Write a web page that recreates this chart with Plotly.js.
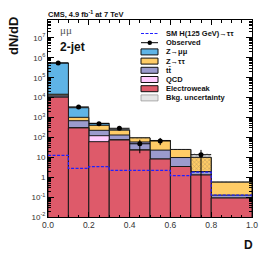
<!DOCTYPE html>
<html><head><meta charset="utf-8">
<script src="https://cdn.plot.ly/plotly-3.0.1.min.js"></script>
<style>html,body{margin:0;padding:0;background:#fff}</style>
</head><body><div id="chart" style="width:266px;height:255px"></div>
<script>
// ---- data ----
const binEdges    = [0.0, 0.1, 0.2, 0.3, 0.4, 0.5, 0.6, 0.7, 0.8, 1.0];
const electroweak = [10500, 300, 61, 74, 23, 8.2, 3.45, 1.29, 0.09];
const qcd         = [300, 10, 61, 3, 1, 0, 0, 0, 0];
const ttbar       = [2500, 380, 105, 55, 35, 14.8, 6.3, 0.64, 0.035];
const ztautau     = [1500, 330, 178, 100, 36, 47, 15, 8.0, 0.44];
const zmumu       = [535000, 2080, 107, 8, 0, 0, 0, 0, 0];
const bkgUnc      = [30000, 200, 30, 18, 8, 6, 2.5, 7.5, 0.06];
const signalSM    = [12.5, 2.8, 3.4, 2.2, 2.2, 2.2, 1.19, 1.8, 0.125];
const observed    = [550000, 3400, 490, 287, 48, 66, null, 13.5, null];
const obsErrUp    = [800, 60, 25, 40, 28, 28, 0, 10, 0];
const obsErrDown  = [800, 60, 25, 40, 32, 25, 0, 13.49, 0];
const xTickVals   = [0, 0.2, 0.4, 0.6, 0.8, 1.0];
const xTickText   = ['0.0', '0.2', '0.4', '0.6', '0.8', '1.0'];
const yTickVals   = [0.01, 0.1, 1, 10, 100, 1e3, 1e4, 1e5, 1e6, 1e7];
const yTickText   = ['10<sup>-2</sup>', '10<sup>-1</sup>', '1', '10', '10<sup>2</sup>', '10<sup>3</sup>',
                     '10<sup>4</sup>', '10<sup>5</sup>', '10<sup>6</sup>', '10<sup>7</sup>'];
const legendNames = ['SM H(125 GeV)→ττ', 'Observed', 'Z→μμ', 'Z→ττ', 'tt̄', 'QCD', 'Electroweak', 'Bkg. uncertainty'];

// ---- derived ----
const nb = electroweak.length;
const centers = [], widths = [];
for (let i = 0; i < nb; i++) { centers.push((binEdges[i] + binEdges[i+1]) / 2); widths.push(binEdges[i+1] - binEdges[i]); }
const c1 = electroweak.slice();
const c2 = c1.map((v, i) => v + qcd[i]);
const c3 = c2.map((v, i) => v + ttbar[i]);
const c4 = c3.map((v, i) => v + ztautau[i]);
const c5 = c4.map((v, i) => v + zmumu[i]);

const colors = {zmumu:'#5fb4e6', ztt:'#ffcc66', tt:'#9b9bcd', qcd:'#ffccff', ewk:'#de5a6a'};
function stackBar(y, color) {
  return {type:'bar', x:centers, y:y, width:widths, marker:{color:color, line:{color:'#1a1a1a', width:1}},
          hoverinfo:'skip', showlegend:false};
}
const traces = [
  stackBar(c5, colors.zmumu),
  stackBar(c4, colors.ztt),
  stackBar(c3, colors.tt),
  stackBar(c2, colors.qcd),
  stackBar(c1, colors.ewk),
  {type:'bar', x:centers, width:widths, base:c5.map((v,i)=>v-bkgUnc[i]), y:bkgUnc.map(u=>2*u),
   marker:{color:'rgba(0,0,0,0)', line:{width:0},
           pattern:{shape:'x', size:3, solidity:0.25, fgcolor:'#555', bgcolor:'rgba(0,0,0,0)', fillmode:'overlay'}},
   hoverinfo:'skip', showlegend:false},
  {type:'scatter', mode:'lines', x:binEdges, y:signalSM.concat([signalSM[nb-1]]), line:{shape:'hv', color:'#2020ff', width:1.2, dash:'3px,1.5px'},
   hoverinfo:'skip', showlegend:false},
  {type:'scatter', mode:'markers', x:centers, y:observed, marker:{color:'#000', size:5},
   error_y:{type:'data', symmetric:false, array:obsErrUp, arrayminus:obsErrDown, color:'#000', thickness:1, width:0},
   error_x:{type:'data', array:widths.map(w=>w/2), color:'#000', thickness:1, width:0},
   hoverinfo:'skip', showlegend:false}
];

const minorY = [];
for (let n = -2; n <= 7; n++) for (let k = 2; k <= 9; k++) minorY.push(k * Math.pow(10, n));

const L = 48, R = 252, T = 20, B = 217;
const fx = px => (px - L) / (R - L);
const fy = py => (B - py) / (B - T);

const shapes = [], annotations = [];
const legendColors = [null, null, colors.zmumu, colors.ztt, colors.tt, colors.qcd, colors.ewk, '#e6e6e6'];
legendNames.forEach((name, i) => {
  const row = 33.5 + i * 9.2;
  if (i === 0) {
    shapes.push({type:'line', xref:'paper', yref:'paper', x0:fx(141), x1:fx(158), y0:fy(row), y1:fy(row),
                 line:{color:'#2020ff', width:1.2, dash:'3px,1.5px'}});
  } else if (i === 1) {
    shapes.push({type:'line', xref:'paper', yref:'paper', x0:fx(141), x1:fx(158), y0:fy(row), y1:fy(row),
                 line:{color:'#000', width:1}});
    shapes.push({type:'circle', xref:'paper', yref:'paper', x0:fx(147.5), x1:fx(152), y0:fy(row+2.25), y1:fy(row-2.25),
                 fillcolor:'#000', line:{color:'#000', width:0}});
  } else {
    shapes.push({type:'rect', xref:'paper', yref:'paper', x0:fx(141), x1:fx(158), y0:fy(row+3), y1:fy(row-3),
                 fillcolor:legendColors[i], line:{color: i === 7 ? '#999' : '#111', width: i === 7 ? 0.8 : 1}});
  }
  annotations.push({xref:'paper', yref:'paper', x:fx(164), y:fy(row), xanchor:'left', yanchor:'middle', showarrow:false,
                    text:'<b>' + name + '</b>', font:{size:7.5, color:'#111'}});
});

annotations.push(
  {xref:'paper', yref:'paper', x:fx(46), y:fy(14), xanchor:'left', yanchor:'middle', showarrow:false,
   text:'<b>CMS, 4.9 fb<sup>-1</sup> at 7 TeV</b>', font:{size:7.5, color:'#111'}},
  {xref:'paper', yref:'paper', x:fx(58), y:fy(30), xanchor:'left', yanchor:'middle', showarrow:false,
   text:'μμ', font:{size:11, color:'#555', family:'Liberation Serif, serif'}},
  {xref:'paper', yref:'paper', x:fx(58), y:fy(47), xanchor:'left', yanchor:'middle', showarrow:false,
   text:'<b>2-jet</b>', font:{size:12, color:'#111'}},
  {xref:'paper', yref:'paper', x:fx(13), y:fy(36), xanchor:'center', yanchor:'middle', showarrow:false, textangle:-90,
   text:'<b>dN/dD</b>', font:{size:13, color:'#111'}},
  {xref:'paper', yref:'paper', x:fx(248), y:fy(245), xanchor:'center', yanchor:'middle', showarrow:false,
   text:'<b>D</b>', font:{size:12, color:'#111'}}
);

const layout = {
  width:266, height:255,
  margin:{l:L, r:266-R, t:T, b:255-B},
  paper_bgcolor:'#fff', plot_bgcolor:'#fff',
  barmode:'overlay', bargap:0, showlegend:false,
  font:{family:'Liberation Sans, Arial, sans-serif', size:8, color:'#222'},
  xaxis:{range:[0,1], tickmode:'array', tickvals:xTickVals, ticktext:xTickText, ticks:'inside', ticklen:5, tickwidth:1,
         tickcolor:'#000', showline:true, linecolor:'#000', linewidth:1, mirror:'allticks', showgrid:false, zeroline:false,
         minor:{dtick:0.05, ticks:'inside', ticklen:2.5, tickcolor:'#000', showgrid:false},
         tickfont:{size:8.5, color:'#333'}},
  yaxis:{type:'log', range:[-2, 7.9], tickmode:'array', tickvals:yTickVals, ticktext:yTickText, ticks:'inside', ticklen:6,
         tickwidth:1, tickcolor:'#000', showline:true, linecolor:'#000', linewidth:1, mirror:'allticks', showgrid:false,
         zeroline:false, minor:{tickmode:'array', tickvals:minorY, ticks:'inside', ticklen:3, tickcolor:'#000', showgrid:false},
         tickfont:{size:8, color:'#333'}},
  shapes:shapes, annotations:annotations
};

Plotly.newPlot('chart', traces, layout, {staticPlot:true, displayModeBar:false});
</script>
</body></html>
